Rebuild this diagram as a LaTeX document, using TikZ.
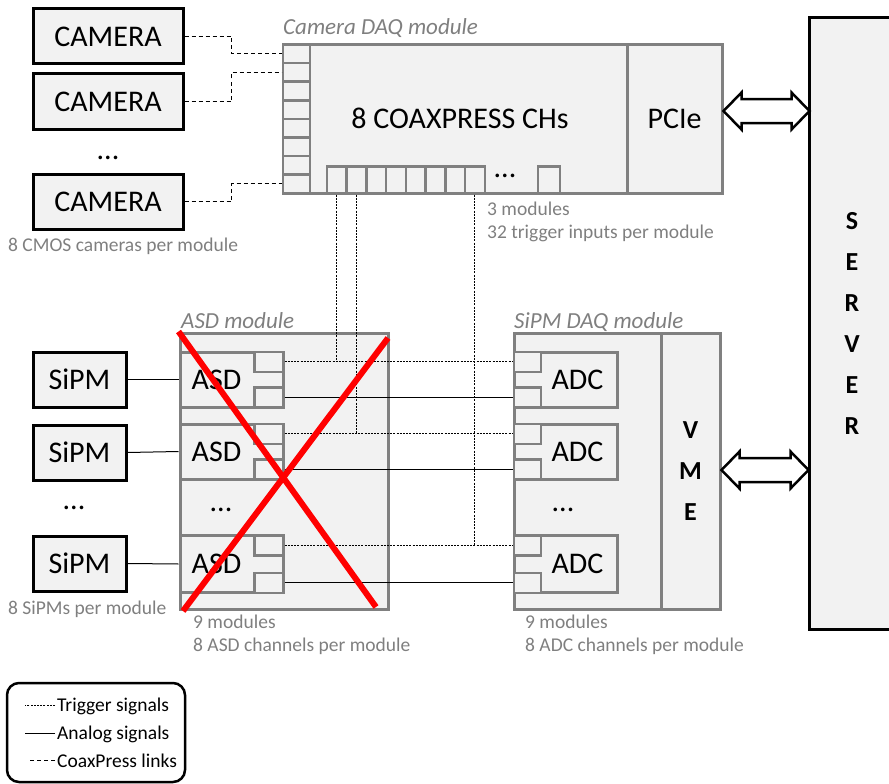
\documentclass[tikz,border=0pt]{standalone}
\usepackage{fontspec}
\setmainfont{Carlito}
\usetikzlibrary{positioning, calc}

\definecolor{boxfill}{HTML}{F2F2F2}
\definecolor{modgray}{HTML}{808080}
\definecolor{notegray}{HTML}{7F7F7F}

\begin{document}
\begin{tikzpicture}[x=1pt, y=-1pt,
    dev/.style={draw, line width=3pt, fill=boxfill, inner sep=0pt, font=\fontsize{30}{32}\selectfont},
    modbox/.style={draw=modgray, line width=3pt, fill=boxfill, inner sep=0pt},
    port/.style={draw=modgray, line width=2.5pt, fill=boxfill, inner sep=0pt},
    big/.style={font=\fontsize{30}{32}\selectfont, inner sep=0pt},
    bold/.style={font=\fontsize{26}{41}\selectfont\bfseries, align=center},
    title/.style={font=\fontsize{23}{26}\selectfont\itshape, text=notegray, anchor=base west, inner sep=0pt},
    note/.style={font=\fontsize{19.5}{23}\selectfont, text=notegray, anchor=base west, inner sep=0pt},
    legtext/.style={font=\fontsize{19.5}{23}\selectfont, anchor=base west, inner sep=0pt},
    trigger/.style={line width=0.9pt, dash pattern=on 2pt off 1.2pt},
    analog/.style={line width=1pt},
    coax/.style={line width=1pt, dash pattern=on 4pt off 3pt},
    bigarrow/.style={draw, line width=2.5pt, fill=white, line join=miter},
    cross/.style={red, line width=6pt}
]
    \useasboundingbox (0,0) rectangle (889,784);

    % Cameras
    \node[dev, minimum width=150, minimum height=55] (cam1) at (108,36.5) {CAMERA};
    \node[dev, minimum width=150, minimum height=55] (cam2) at (108,101.5) {CAMERA};
    \node[big] (camdots) at (108,158) {...};
    \node[dev, minimum width=150, minimum height=55] (cam3) at (108,201.5) {CAMERA};
    \node[note] (camnote) at (8,251) {8 CMOS cameras per module};

    % Camera DAQ module
    \node[modbox, minimum width=439, minimum height=148] (cdaq) at (502.5,119) {};
    \node[modbox, minimum width=95, minimum height=148, big] (pcie) at (674.5,119) {PCIe};
    \node[big] (chs) at (460,118) {8 COAXPRESS CHs};
    \node[title] (cdaqtitle) at (283,35) {Camera DAQ module};
    \foreach \i in {0,...,7}
        \node[port, minimum width=27, minimum height=18.5, anchor=north west] (cx\i) at ([yshift=-18.5*\i]cdaq.north west) {};
    \foreach \i in {1,...,8}
        \node[port, minimum width=19.75, minimum height=27, anchor=south west] (tr\i) at ([xshift=44+19.75*(\i-1)]cdaq.south west) {};
    \node[big] (trdots) at (505,176) {...};
    \node[port, minimum width=22, minimum height=27, anchor=south west] (tr32) at ([xshift=255]cdaq.south west) {};
    \node[note] (cdaqnote1) at (487,215) {3 modules};
    \node[note] (cdaqnote2) at (487,238) {32 trigger inputs per module};

    % CoaxPress links
    \draw[coax] (cam1.east) -- ++(47,0) |- (cx0.west);
    \draw[coax] (cam2.east) -- ++(47,0) |- (cx1.west);
    \draw[coax] (cam3.east) -- ++(47,0) |- (cx7.west);

    % Server
    \node[draw, line width=3pt, fill=boxfill, minimum width=86, minimum height=611, bold] (server) at (852,323.5) {S\\E\\R\\V\\E\\R};

    % SiPMs
    \node[dev, minimum width=93, minimum height=55] (sipm1) at (79.5,379.5) {SiPM};
    \node[dev, minimum width=93, minimum height=55] (sipm2) at (79.5,452.5) {SiPM};
    \node[big] (sipmdots) at (74,508) {...};
    \node[dev, minimum width=93, minimum height=55] (sipm3) at (79.5,563.5) {SiPM};
    \node[note] (sipmnote) at (8,614) {8 SiPMs per module};

    % ASD module
    \node[modbox, minimum width=208, minimum height=276] (asdmod) at (284,471) {};
    \node[title] (asdtitle) at (181,328) {ASD module};
    \node[modbox, minimum width=103, minimum height=55, label={[big, xshift=-15pt]center:ASD}] (asd1) at (231.5,379.5) {};
    \node[modbox, minimum width=103, minimum height=55, label={[big, xshift=-15pt]center:ASD}] (asd2) at (231.5,451.5) {};
    \node[big] (asddots) at (221,510) {...};
    \node[modbox, minimum width=103, minimum height=57, label={[big, xshift=-15pt]center:ASD}] (asd3) at (231.5,564) {};
    \foreach \i in {1,2,3} {
        \node[port, minimum width=29, minimum height=20, anchor=north east] (asdt\i) at (asd\i.north east) {};
        \node[port, minimum width=29, minimum height=20, anchor=south east] (asda\i) at (asd\i.south east) {};
    }
    \node[note] (asdnote1) at (193,628) {9 modules};
    \node[note] (asdnote2) at (193,651) {8 ASD channels per module};

    % SiPM DAQ module
    \node[modbox, minimum width=206, minimum height=276] (sdaq) at (617,471) {};
    \node[modbox, minimum width=59, minimum height=276, bold] (vme) at (690.5,471) {V\\M\\E};
    \node[title] (sdaqtitle) at (514,328) {SiPM DAQ module};
    \node[modbox, minimum width=103, minimum height=55, label={[big, xshift=12pt]center:ADC}] (adc1) at (565.5,379.5) {};
    \node[modbox, minimum width=103, minimum height=55, label={[big, xshift=12pt]center:ADC}] (adc2) at (565.5,451.5) {};
    \node[big] (adcdots) at (563,510) {...};
    \node[modbox, minimum width=103, minimum height=57, label={[big, xshift=12pt]center:ADC}] (adc3) at (565.5,564) {};
    \foreach \i in {1,2,3} {
        \node[port, minimum width=27, minimum height=20, anchor=north west] (adct\i) at (adc\i.north west) {};
        \node[port, minimum width=27, minimum height=20, anchor=south west] (adca\i) at (adc\i.south west) {};
    }
    \node[note] (sdaqnote1) at (525,628) {9 modules};
    \node[note] (sdaqnote2) at (525,651) {8 ADC channels per module};

    % Signals ASD -> ADC
    \foreach \i in {1,2,3} {
        \draw[trigger] (asdt\i.east) -- (adct\i.west);
        \draw[analog] (asda\i.east) -- (adca\i.west);
    }
    \draw[analog] (sipm1.east) -- (asd1.west);
    \draw[analog] (sipm2.east) -- (asd2.west);
    \draw[analog] (sipm3.east) -- (asd3.west);

    % Trigger inputs
    \draw[trigger] (tr1.south) -- (tr1.south |- asdt1.east);
    \draw[trigger] (tr2.south) -- (tr2.south |- asdt2.east);
    \draw[trigger] (tr8.south) -- (tr8.south |- asdt3.east);

    % Links to server
    \coordinate (pa) at ([yshift=8]pcie.east);
    \draw[bigarrow] (pa) -- ++(18,-18.5) -- ++(0,6.5) -- ++(50,0) -- ++(0,-6.5) -- ++(18,18.5)
        -- ++(-18,18.5) -- ++(0,-6.5) -- ++(-50,0) -- ++(0,6.5) -- cycle;
    \coordinate (va) at ([yshift=1]vme.east);
    \draw[bigarrow] (va) -- ++(18,-18.5) -- ++(0,6.5) -- ++(51,0) -- ++(0,-6.5) -- ++(18,18.5)
        -- ++(-18,18.5) -- ++(0,-6.5) -- ++(-51,0) -- ++(0,6.5) -- cycle;

    % Red cross over ASD module
    \draw[cross] (asdmod.north west) -- (376,607);
    \draw[cross] (388,338) -- (183,611);

    % Legend
    \node[draw, line width=2.5pt, rounded corners=12pt, minimum width=178, minimum height=99] (legend) at (96,732.5) {};
    \node[legtext] (lgtrig) at (57,711) {Trigger signals};
    \node[legtext] (lgana) at (57,739) {Analog signals};
    \node[legtext] (lgcoax) at (57,767) {CoaxPress links};
    \draw[trigger] ([xshift=-2]lgtrig.west) -- ++(-30,0);
    \draw[analog] ([xshift=-2]lgana.west) -- ++(-30,0);
    \draw[coax] ([xshift=-2]lgcoax.west) -- ++(-27,0);
\end{tikzpicture}
\end{document}
